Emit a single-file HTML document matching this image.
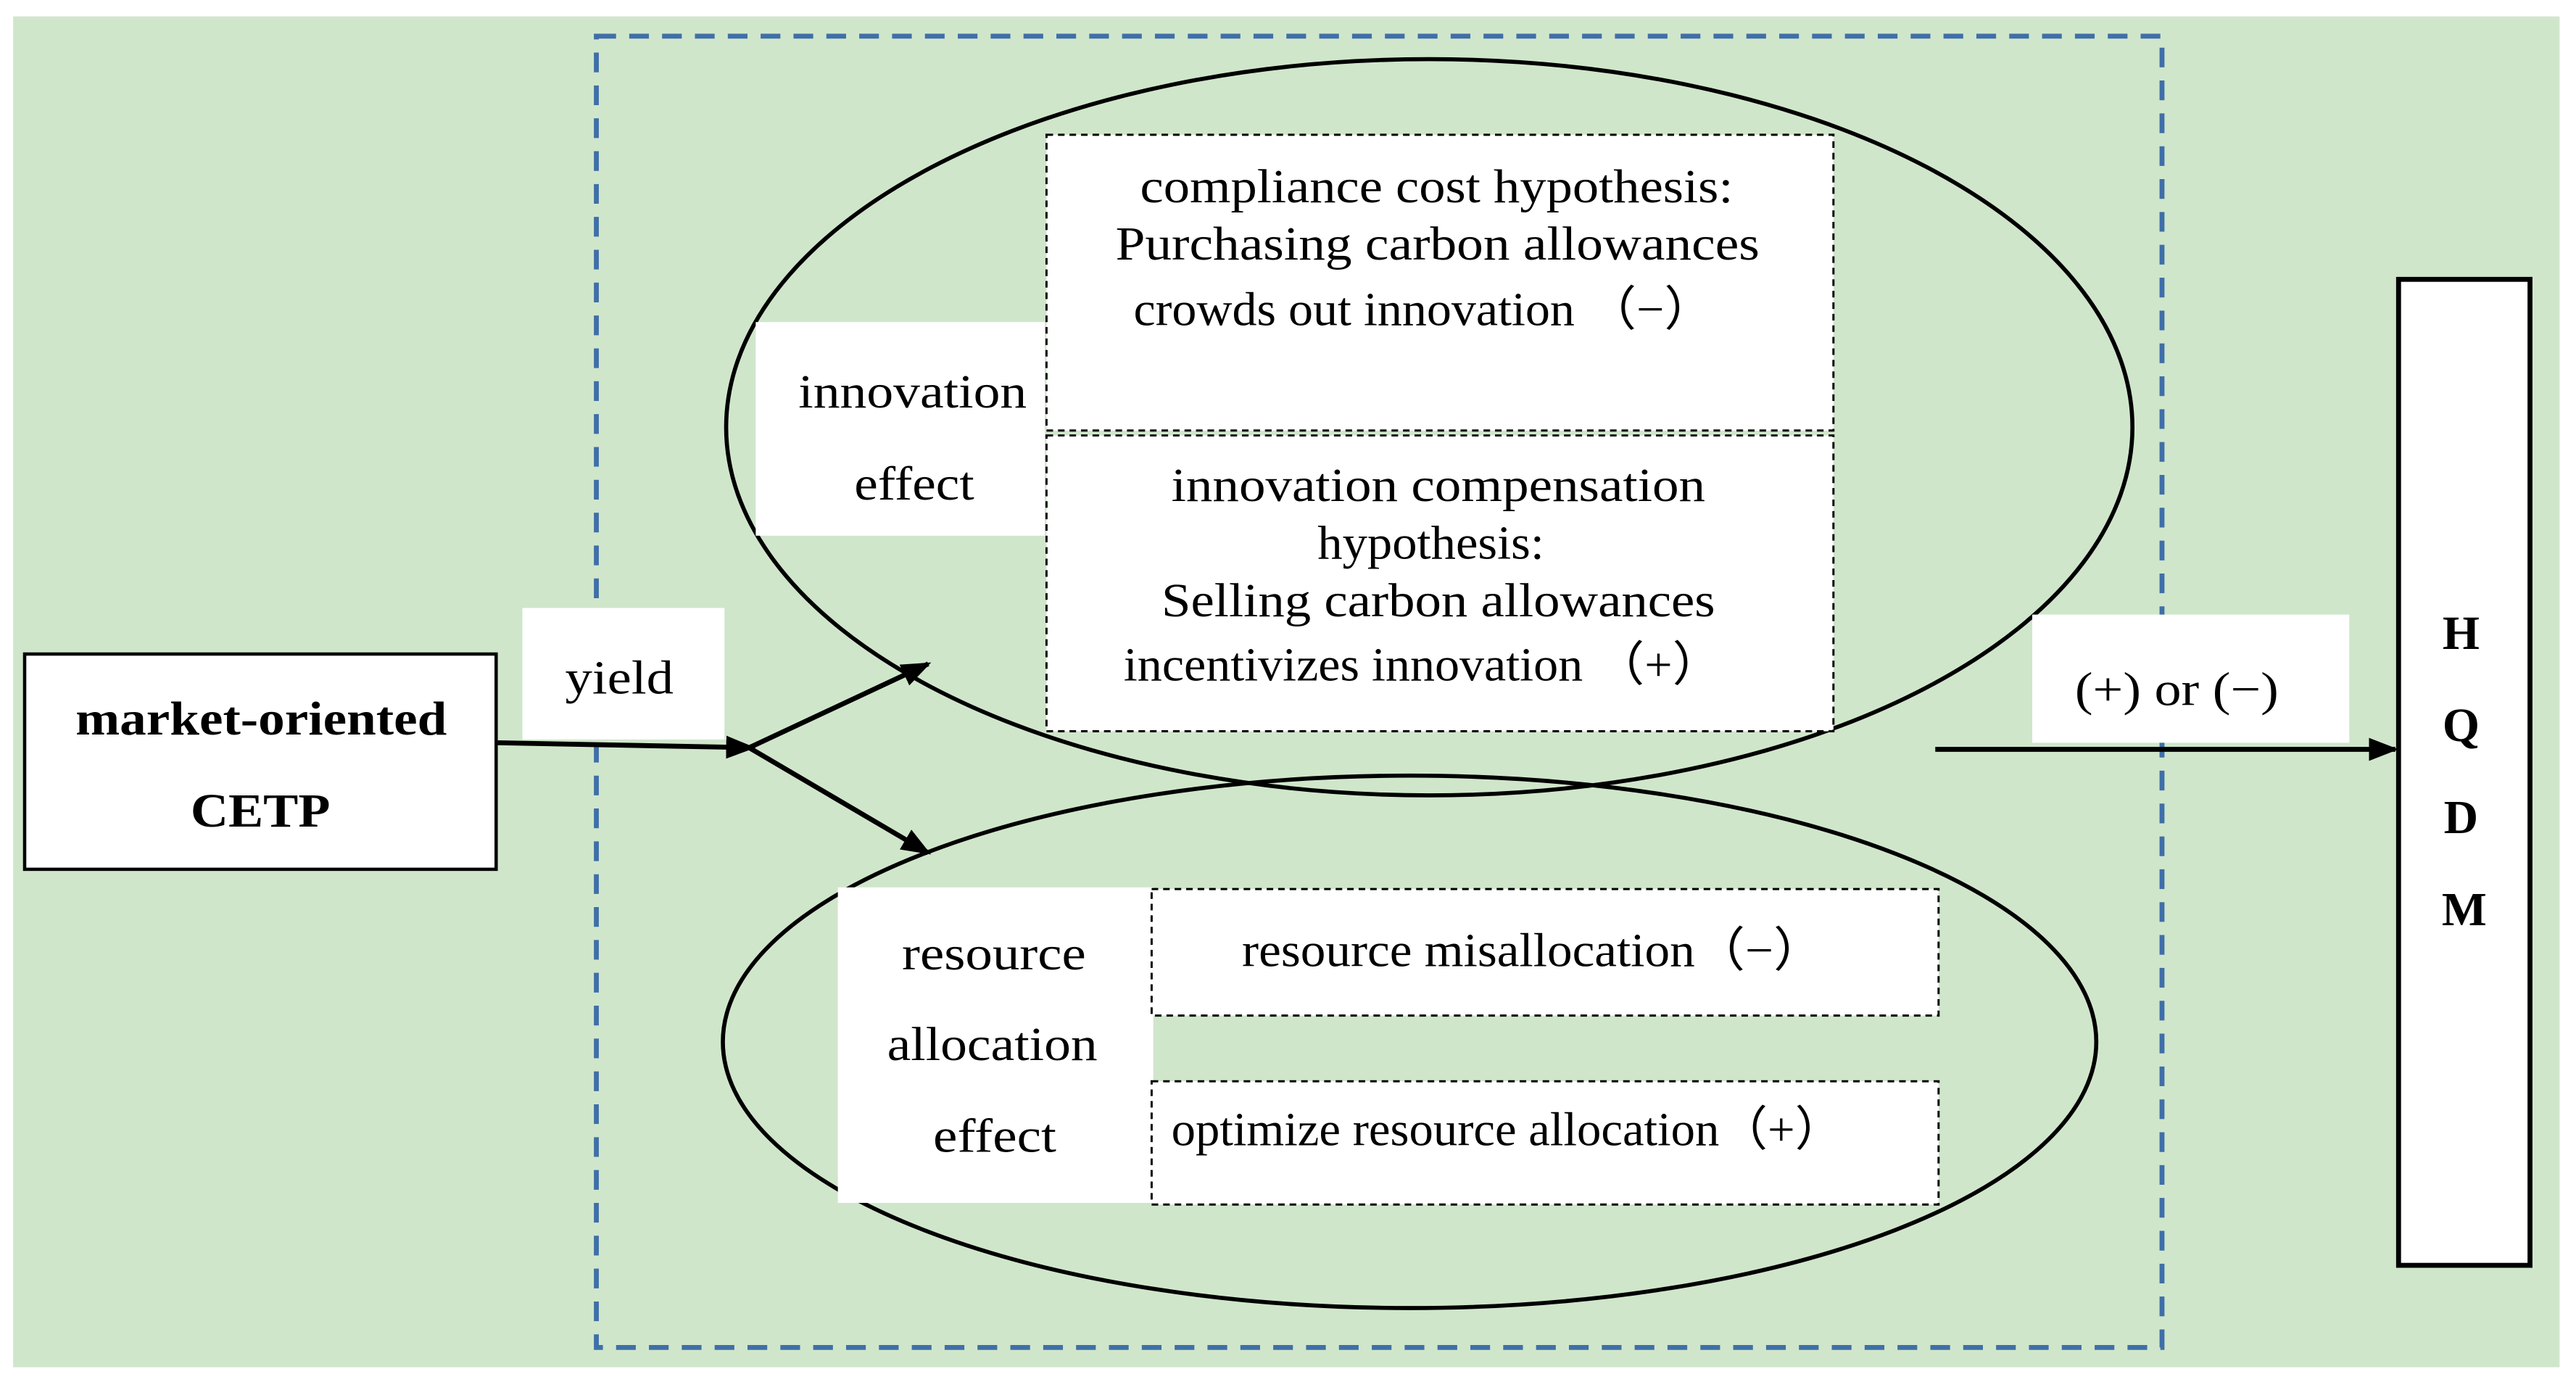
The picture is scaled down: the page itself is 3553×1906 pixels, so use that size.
<!DOCTYPE html>
<html><head><meta charset="utf-8"><style>
html,body{margin:0;padding:0;background:#fff;}
svg{display:block;}
text{font-family:"Liberation Serif",serif;fill:#000;}
</style></head><body>
<svg width="3553" height="1906" viewBox="0 0 1568 841" preserveAspectRatio="none" xmlns="http://www.w3.org/2000/svg">
<defs><marker id="a" markerWidth="18" markerHeight="14" refX="16" refY="7" orient="auto" markerUnits="userSpaceOnUse"><path d="M0,0 L18,7 L0,14 Z" fill="#000"/></marker></defs>
<rect x="0" y="0" width="1568" height="841" fill="#fff"/>
<rect x="8" y="10" width="1550" height="822" fill="#d0e6cb"/>
<rect x="363" y="22" width="953" height="798" fill="none" stroke="#3f6fa8" stroke-width="3" stroke-dasharray="12,8"/>
<ellipse cx="870" cy="260" rx="428" ry="224" fill="none" stroke="#000" stroke-width="2.5"/>
<ellipse cx="858" cy="634" rx="418" ry="162" fill="none" stroke="#000" stroke-width="2.5"/>
<rect x="460" y="196" width="176" height="130" fill="#fff"/>
<text x="486" y="248" font-size="29" textLength="139" lengthAdjust="spacingAndGlyphs">innovation</text>
<text x="520" y="304" font-size="29" textLength="73" lengthAdjust="spacingAndGlyphs">effect</text>
<rect x="637" y="82" width="479" height="180" fill="#fff" stroke="#000" stroke-width="1.3" stroke-dasharray="4,3"/>
<text x="694" y="123" font-size="29" textLength="361" lengthAdjust="spacingAndGlyphs">compliance cost hypothesis:</text>
<text x="679" y="158" font-size="29" textLength="392" lengthAdjust="spacingAndGlyphs">Purchasing carbon allowances</text>
<text x="690" y="198" font-size="29" textLength="353" lengthAdjust="spacingAndGlyphs">crowds out innovation （−）</text>
<rect x="637" y="265" width="479" height="180" fill="#fff" stroke="#000" stroke-width="1.3" stroke-dasharray="4,3"/>
<text x="713" y="305" font-size="29" textLength="325" lengthAdjust="spacingAndGlyphs">innovation compensation</text>
<text x="802" y="340" font-size="29" textLength="138" lengthAdjust="spacingAndGlyphs">hypothesis:</text>
<text x="707" y="375" font-size="29" textLength="337" lengthAdjust="spacingAndGlyphs">Selling carbon allowances</text>
<text x="684" y="414" font-size="29" textLength="364" lengthAdjust="spacingAndGlyphs">incentivizes innovation （+）</text>
<rect x="510" y="540" width="192" height="192" fill="#fff"/>
<text x="549" y="590" font-size="29" textLength="112" lengthAdjust="spacingAndGlyphs">resource</text>
<text x="540" y="645" font-size="29" textLength="128" lengthAdjust="spacingAndGlyphs">allocation</text>
<text x="568" y="701" font-size="29" textLength="75" lengthAdjust="spacingAndGlyphs">effect</text>
<rect x="701" y="541" width="479" height="77" fill="#fff" stroke="#000" stroke-width="1.3" stroke-dasharray="4,3"/>
<text x="756" y="588" font-size="29" textLength="354" lengthAdjust="spacingAndGlyphs">resource misallocation（−）</text>
<rect x="701" y="658" width="479" height="75" fill="#fff" stroke="#000" stroke-width="1.3" stroke-dasharray="4,3"/>
<text x="713" y="697" font-size="29" textLength="409" lengthAdjust="spacingAndGlyphs">optimize resource allocation（+）</text>
<rect x="15" y="398" width="287" height="131" fill="#fff" stroke="#000" stroke-width="2"/>
<text x="46" y="447" font-size="29" font-weight="bold" textLength="226" lengthAdjust="spacingAndGlyphs">market-oriented</text>
<text x="116" y="503" font-size="29" font-weight="bold" textLength="85" lengthAdjust="spacingAndGlyphs">CETP</text>
<rect x="318" y="370" width="123" height="80" fill="#fff"/>
<text x="344" y="422" font-size="29" textLength="66" lengthAdjust="spacingAndGlyphs">yield</text>
<line x1="303" y1="452" x2="458" y2="455" stroke="#000" stroke-width="3" marker-end="url(#a)"/>
<line x1="456" y1="455" x2="565" y2="404" stroke="#000" stroke-width="3" marker-end="url(#a)"/>
<line x1="456" y1="455" x2="565" y2="519" stroke="#000" stroke-width="3" marker-end="url(#a)"/>
<rect x="1237" y="374" width="193" height="78" fill="#fff"/>
<text x="1263" y="429" font-size="29" textLength="124" lengthAdjust="spacingAndGlyphs">(+) or (−)</text>
<line x1="1178" y1="456" x2="1458" y2="456" stroke="#000" stroke-width="3" marker-end="url(#a)"/>
<rect x="1460" y="170" width="80" height="600" fill="#fff" stroke="#000" stroke-width="3"/>
<text x="1498" y="395" font-size="29" font-weight="bold" text-anchor="middle">H</text>
<text x="1498" y="451" font-size="29" font-weight="bold" text-anchor="middle">Q</text>
<text x="1498" y="507" font-size="29" font-weight="bold" text-anchor="middle">D</text>
<text x="1500" y="563" font-size="29" font-weight="bold" text-anchor="middle">M</text>
</svg>
</body></html>
